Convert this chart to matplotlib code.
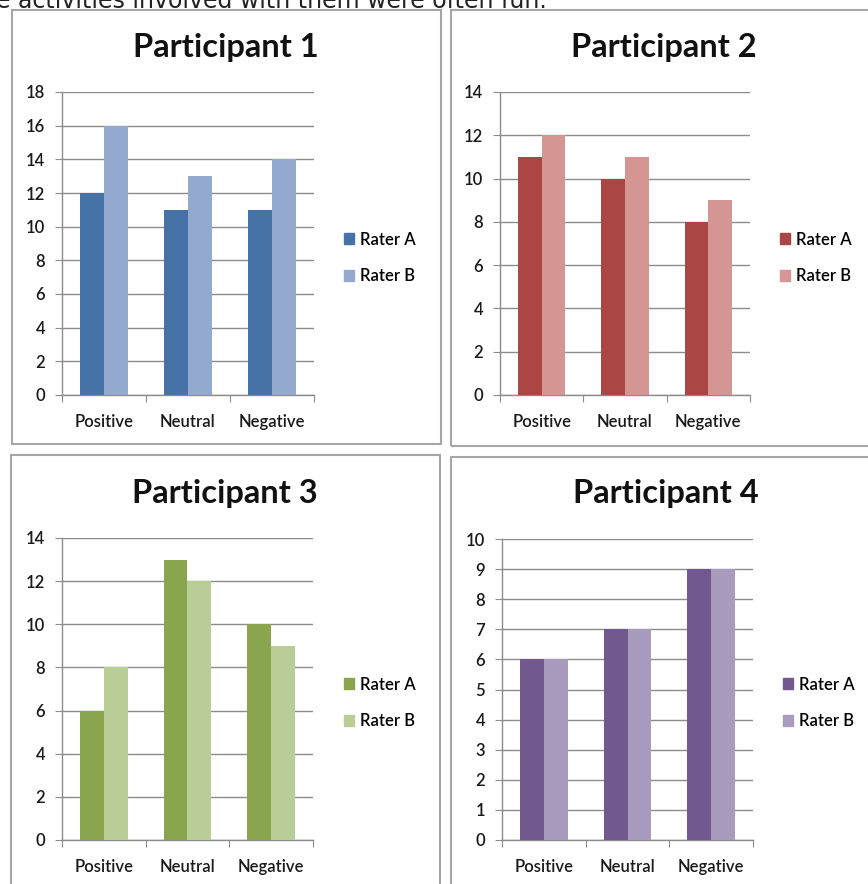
import matplotlib
matplotlib.use("Agg")
import matplotlib.pyplot as plt
from matplotlib.patches import Rectangle, Patch
import numpy as np

plt.rcParams['font.family'] = ['Lato', 'DejaVu Sans']

categories = ["Positive", "Neutral", "Negative"]
series_names = ["Rater A", "Rater B"]

p1_rater_a = [12, 11, 11]
p1_rater_b = [16, 13, 14]
p2_rater_a = [11, 10, 8]
p2_rater_b = [12, 11, 9]
p3_rater_a = [6, 13, 10]
p3_rater_b = [8, 12, 9]
p4_rater_a = [6, 7, 9]
p4_rater_b = [6, 7, 9]

titles = ["Participant 1", "Participant 2", "Participant 3", "Participant 4"]
y_max = [18, 14, 14, 10]
y_step = [2, 2, 2, 1]

W, H = 868, 884
fig = plt.figure(figsize=(W / 100, H / 100), dpi=100)
fig.patch.set_facecolor("white")


def fx(px):
    return px / W


def fy(py):
    return 1 - py / H


# caption line running above the panels
fig.text(fx(-4), fy(8), "e activities involved with them were often fun.",
         fontsize=17, color="#222222", va="baseline", ha="left",
         family=["DejaVu Sans"])

panels = [
    dict(frame=(12, 10, 441, 444), plot=(62, 92, 314, 395), title=(226, 47), leg=(344, 258),
         colors=("#4572A7", "#93A9D0"), a=p1_rater_a, b=p1_rater_b),
    dict(frame=(451, 10, 872, 446), plot=(500, 92, 750, 395), title=(664, 47), leg=(780, 258),
         colors=("#AA4643", "#D59593"), a=p2_rater_a, b=p2_rater_b),
    dict(frame=(11, 455, 440, 888), plot=(62, 538, 313, 840), title=(225, 493), leg=(344, 703),
         colors=("#89A54E", "#B9CD96"), a=p3_rater_a, b=p3_rater_b),
    dict(frame=(451, 457, 872, 888), plot=(502, 539, 753, 840), title=(666, 494), leg=(783, 703),
         colors=("#71588F", "#A99BBD"), a=p4_rater_a, b=p4_rater_b),
]

bar_w = 0.285
x = np.arange(len(categories))
small = dict(fontsize=12, fontweight="semibold")

for i, p in enumerate(panels):
    x0, y0, x1, y1 = p["frame"]
    fig.patches.append(Rectangle((fx(x0), fy(y1)), fx(x1) - fx(x0), fy(y0) - fy(y1),
                                 transform=fig.transFigure, fill=False,
                                 edgecolor="#A6A6A6", linewidth=1.5, zorder=0))
    l, t, r, b = p["plot"]
    ax = fig.add_axes([fx(l), fy(b), fx(r) - fx(l), fy(t) - fy(b)])
    ax.bar(x - bar_w / 2, p["a"], width=bar_w, color=p["colors"][0], label=series_names[0], zorder=3)
    ax.bar(x + bar_w / 2, p["b"], width=bar_w, color=p["colors"][1], label=series_names[1], zorder=3)
    ax.set_xlim(-0.5, len(categories) - 0.5)
    ax.set_ylim(0, y_max[i])
    ax.set_yticks(np.arange(0, y_max[i] + 0.1, y_step[i]))
    ax.yaxis.grid(True, color="#8C8C8C", linewidth=1.0, zorder=0)
    ax.set_axisbelow(True)
    for s in ("top", "right"):
        ax.spines[s].set_visible(False)
    for s in ("left", "bottom"):
        ax.spines[s].set_color("#8C8C8C")
        ax.spines[s].set_linewidth(1.0)
    ax.set_xticks(np.arange(-0.5, len(categories), 1.0))
    ax.set_xticklabels([])
    ax.set_xticks(x, minor=True)
    ax.set_xticklabels(categories, minor=True, color="#1A1A1A", **small)
    ax.tick_params(axis="x", which="major", length=5, color="#8C8C8C")
    ax.tick_params(axis="x", which="minor", length=0, pad=14)
    ax.tick_params(axis="y", length=5, color="#8C8C8C", labelcolor="#1A1A1A", pad=7)
    ax.set_yticklabels([str(int(v)) for v in ax.get_yticks()], **small)
    tx, ty = p["title"]
    fig.text(fx(tx), fy(ty), titles[i], fontsize=23.5, fontweight="bold",
             ha="center", va="center", color="#111111")
    lx, ly = p["leg"]
    handles = [Patch(color=p["colors"][0]), Patch(color=p["colors"][1])]
    ax.legend(handles, series_names, loc="center left", bbox_to_anchor=(fx(lx), fy(ly)),
              bbox_transform=fig.transFigure, frameon=False,
              prop=dict(size=12, weight="semibold"),
              handlelength=0.6, handleheight=0.6, handletextpad=0.35, labelspacing=1.25,
              borderaxespad=0, borderpad=0)

fig.savefig("out.png", dpi=100, facecolor="white")
